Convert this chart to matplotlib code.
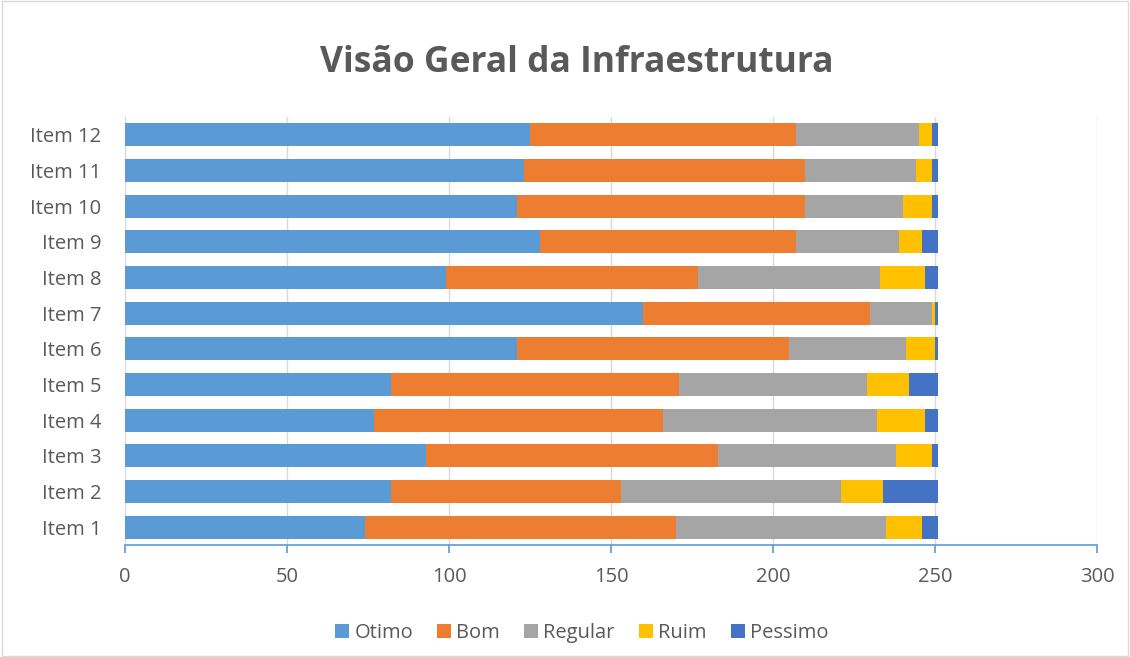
import matplotlib.pyplot as plt
import numpy as np

plt.rcParams['font.family'] = ['Open Sans', 'DejaVu Sans']

items = ['Item 1', 'Item 2', 'Item 3', 'Item 4', 'Item 5', 'Item 6',
         'Item 7', 'Item 8', 'Item 9', 'Item 10', 'Item 11', 'Item 12']
otimo = [74, 82, 93, 77, 82, 121, 160, 99, 128, 121, 123, 125]
bom = [96, 71, 90, 89, 89, 84, 70, 78, 79, 89, 87, 82]
regular = [65, 68, 55, 66, 58, 36, 19, 56, 32, 30, 34, 38]
ruim = [11, 13, 11, 15, 13, 9, 1, 14, 7, 9, 5, 4]
pessimo = [5, 17, 2, 4, 9, 1, 1, 4, 5, 2, 2, 2]

series = [('Otimo', otimo, '#5B9BD5'), ('Bom', bom, '#ED7D31'),
          ('Regular', regular, '#A5A5A5'), ('Ruim', ruim, '#FFC000'),
          ('Pessimo', pessimo, '#4472C4')]

fig = plt.figure(figsize=(11.3, 6.57), dpi=100)
ax = fig.add_axes([0.1106, 0.1705, 0.8602, 0.6515])

y = np.arange(len(items))
left = np.zeros(len(items))
for name, vals, col in series:
    ax.barh(y, vals, left=left, height=0.64, color=col, label=name, zorder=3)
    left += np.array(vals)

ax.set_xlim(0, 300)
ax.set_ylim(-0.5, len(items) - 0.5)
ax.set_xticks(range(0, 301, 50))
ax.set_yticks(y)
ax.set_yticklabels(items)
ax.grid(axis='x', color='#D9D9D9', linewidth=1, zorder=0)
ax.set_axisbelow(True)

for s in ['top', 'right', 'left']:
    ax.spines[s].set_visible(False)
ax.spines['bottom'].set_color('#5B9BD5')
ax.spines['bottom'].set_linewidth(1.2)
ax.tick_params(axis='x', colors='#5B9BD5', length=6, width=1.2, direction='out',
               labelcolor='#595959', labelsize=14.5, pad=10)
ax.tick_params(axis='y', length=0, labelcolor='#595959', labelsize=14.5, pad=17)

fig.suptitle('Visão Geral da Infraestrutura', x=0.51, y=0.932, fontsize=25.5,
             fontweight='bold', color='#595959')

ax.legend(loc='upper center', bbox_to_anchor=(0.47, -0.14), ncol=5, frameon=False,
          fontsize=14.5, labelcolor='#595959', handlelength=0.7, handleheight=0.7,
          handletextpad=0.25, columnspacing=1.2)

fig.patches.append(plt.Rectangle((0.002, 0.002), 0.996, 0.996, transform=fig.transFigure,
                                 fill=False, edgecolor='#D9D9D9', linewidth=1))

fig.savefig('out.png', dpi=100)
